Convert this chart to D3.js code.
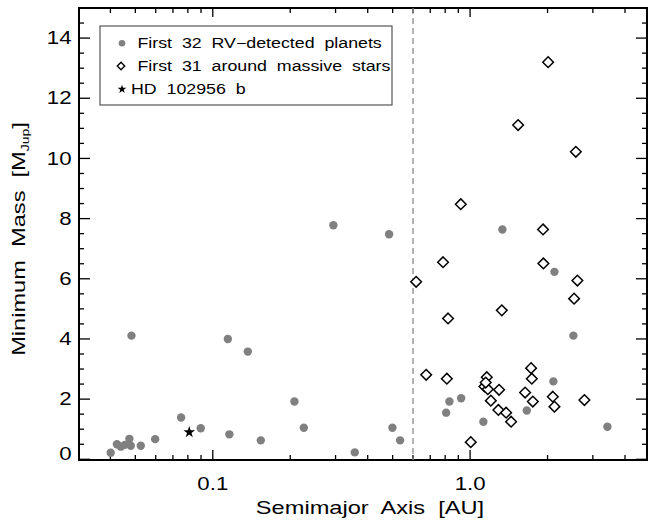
<!DOCTYPE html>
<html>
<head>
<meta charset="utf-8">
<script src="https://cdn.jsdelivr.net/npm/d3@7"></script>
<style>
  body { margin: 0; background: #fff; }
  svg { font-family: "Liberation Sans", Arial, sans-serif; }
  text { white-space: pre; }
</style>
</head>
<body>
<svg width="648" height="521"></svg>
<script>
// first 32 RV planets: semimajor axis [AU], minimum mass [MJup]
const rvA = [0.0401, 0.0424, 0.0439, 0.0474, 0.0480, 0.0483, 0.0525, 0.0597, 0.0753, 0.0898,
             0.1144, 0.116, 0.1368, 0.1537, 0.2076, 0.2258, 0.2942, 0.4844, 0.3563, 0.499,
             0.5345, 0.831, 0.807, 0.923, 1.126, 1.661, 1.335, 2.127, 2.52, 2.107, 3.417, 0.0455];
const rvM = [0.22, 0.50, 0.42, 0.68, 0.45, 4.11, 0.45, 0.67, 1.39, 1.03,
             4.00, 0.83, 3.58, 0.63, 1.92, 1.05, 7.78, 7.48, 0.23, 1.05,
             0.63, 1.92, 1.55, 2.03, 1.25, 1.62, 7.64, 6.23, 4.11, 2.59, 1.08, 0.48];

// first 31 planets around massive stars
const msA = [2.01, 1.537, 2.576, 0.920, 1.927, 0.785, 0.617, 2.612, 2.536, 1.328,
             0.821, 0.675, 0.812, 1.161, 1.137, 1.172, 1.296, 1.204, 1.288, 1.380,
             1.443, 1.006, 1.726, 1.737, 1.636, 1.753, 2.096, 2.127, 2.781, 1.921, 1.15];
const msM = [13.2, 11.11, 10.22, 8.48, 6.51, 6.55, 5.90, 5.94, 5.34, 4.95,
             4.68, 2.81, 2.68, 2.73, 2.42, 2.33, 2.31, 1.95, 1.64, 1.55,
             1.25, 0.57, 3.03, 2.68, 2.22, 1.92, 2.08, 1.75, 1.97, 7.64, 2.55];

// HD 102956 b
const hdA = [0.081];
const hdM = [0.9];

const cutA = 0.6;
const legendLabels = ["First  32  RV\u2212detected  planets", "First  31  around  massive  stars", "HD  102956  b"];
const xTickVals = [0.1, 1.0];
const xTickText = ["0.1", "1.0"];
const yTickVals = [0, 2, 4, 6, 8, 10, 12, 14];

const svg = d3.select("svg");
const L = 79, R = 647, T = 8, B = 460;
const K = 1.27; // text in the original is stretched sideways

const x = d3.scaleLog().domain([0.0302, 4.87]).range([L, R]);
const y = d3.scaleLinear().domain([0, 15]).range([B - 0.7, T]);

const rv = rvA.map((a, i) => ({ a, m: rvM[i] }));
const ms = msA.map((a, i) => ({ a, m: msM[i] }));
const hd = hdA.map((a, i) => ({ a, m: hdM[i] }));

function txt(g, tx, ty, s, size, anchor, rot) {
  return g.append("text")
    .attr("transform", `translate(${tx},${ty})${rot ? " rotate(" + rot + ")" : ""} scale(${K},1)`)
    .attr("text-anchor", anchor || "start").attr("font-size", size).text(s);
}

// minor / major ticks
const xMinor = [];
[0.01, 0.1, 1].forEach(d => { for (let k = 2; k <= 9; k++) { const v = d * k; if (v > 0.0302 && v < 4.87) xMinor.push(v); } });
const yMinor = d3.range(0, 15.01, 0.5).filter(v => v % 2 !== 0);

const ticks = svg.append("g").attr("stroke", "#000").attr("stroke-width", 1.3);
xMinor.forEach(v => {
  ticks.append("line").attr("x1", x(v)).attr("x2", x(v)).attr("y1", B).attr("y2", B - 5);
  ticks.append("line").attr("x1", x(v)).attr("x2", x(v)).attr("y1", T).attr("y2", T + 5);
});
xTickVals.forEach(v => {
  ticks.append("line").attr("x1", x(v)).attr("x2", x(v)).attr("y1", B).attr("y2", B - 10);
  ticks.append("line").attr("x1", x(v)).attr("x2", x(v)).attr("y1", T).attr("y2", T + 9);
});
yMinor.forEach(v => {
  ticks.append("line").attr("x1", L).attr("x2", L + 5).attr("y1", y(v)).attr("y2", y(v));
  ticks.append("line").attr("x1", R).attr("x2", R - 5).attr("y1", y(v)).attr("y2", y(v));
});
yTickVals.forEach(v => {
  ticks.append("line").attr("x1", L).attr("x2", L + 11).attr("y1", y(v)).attr("y2", y(v));
  ticks.append("line").attr("x1", R).attr("x2", R - 11).attr("y1", y(v)).attr("y2", y(v));
});

// frame
svg.append("rect").attr("x", L).attr("y", T).attr("width", R - L).attr("height", B - T)
  .attr("fill", "none").attr("stroke", "#000").attr("stroke-width", 2);

// tick labels
const lab = svg.append("g");
xTickVals.forEach((v, i) => txt(lab, x(v), 490, xTickText[i], 17.5, "middle"));
yTickVals.forEach(v => txt(lab, 71.5, v === 0 ? y(v) + 0.7 : y(v) + 6.2, String(v), 17.5, "end"));

// axis titles
txt(svg, 370, 514, "Semimajor  Axis  [AU]", 18.6, "middle");
const yt = txt(svg, 25, 239, "", 18.6, "middle", -90);
yt.append("tspan").text("Minimum  Mass  [M");
yt.append("tspan").attr("font-size", 11).attr("dy", 4).text("Jup");
yt.append("tspan").attr("dy", -4).text("]");

// dashed cut
svg.append("line").attr("x1", x(cutA)).attr("x2", x(cutA)).attr("y1", T).attr("y2", B)
  .attr("stroke", "#8c8c8c").attr("stroke-width", 1.3).attr("stroke-dasharray", "6,4");

const diamond = d3.symbol().type(d3.symbolDiamond2).size(72);
const star = d3.symbol().type(d3.symbolStar).size(42);

// RV planets
svg.append("g").selectAll("circle").data(rv).join("circle")
  .attr("cx", d => x(d.a)).attr("cy", d => y(d.m)).attr("r", 4.2)
  .attr("fill", "#808080");

// massive-star planets
svg.append("g").selectAll("path").data(ms).join("path")
  .attr("transform", d => `translate(${x(d.a)},${y(d.m)})`)
  .attr("d", diamond).attr("fill", "#fff").attr("stroke", "#000").attr("stroke-width", 1.5);

// HD 102956 b
svg.append("g").selectAll("path").data(hd).join("path")
  .attr("transform", d => `translate(${x(d.a)},${y(d.m)})`)
  .attr("d", star).attr("fill", "#000");

// legend
const lg = svg.append("g");
lg.append("rect").attr("x", 100).attr("y", 26).attr("width", 292).attr("height", 79)
  .attr("fill", "#fff").attr("stroke", "#555").attr("stroke-width", 1.2);
const rows = [43.3, 66, 89.3];
lg.append("circle").attr("cx", 122).attr("cy", rows[0]).attr("r", 3.3).attr("fill", "#808080");
lg.append("path").attr("transform", `translate(121,${rows[1]})`)
  .attr("d", d3.symbol().type(d3.symbolDiamond2).size(35))
  .attr("fill", "#fff").attr("stroke", "#000").attr("stroke-width", 1.4);
lg.append("path").attr("transform", `translate(122,${rows[2]})`)
  .attr("d", d3.symbol().type(d3.symbolStar).size(24)).attr("fill", "#000");
txt(lg, 137.5, rows[0] + 5, legendLabels[0], 14, "start");
txt(lg, 137.5, rows[1] + 5, legendLabels[1], 14, "start");
txt(lg, 131, rows[2] + 5, legendLabels[2], 14, "start");
</script>
</body>
</html>
